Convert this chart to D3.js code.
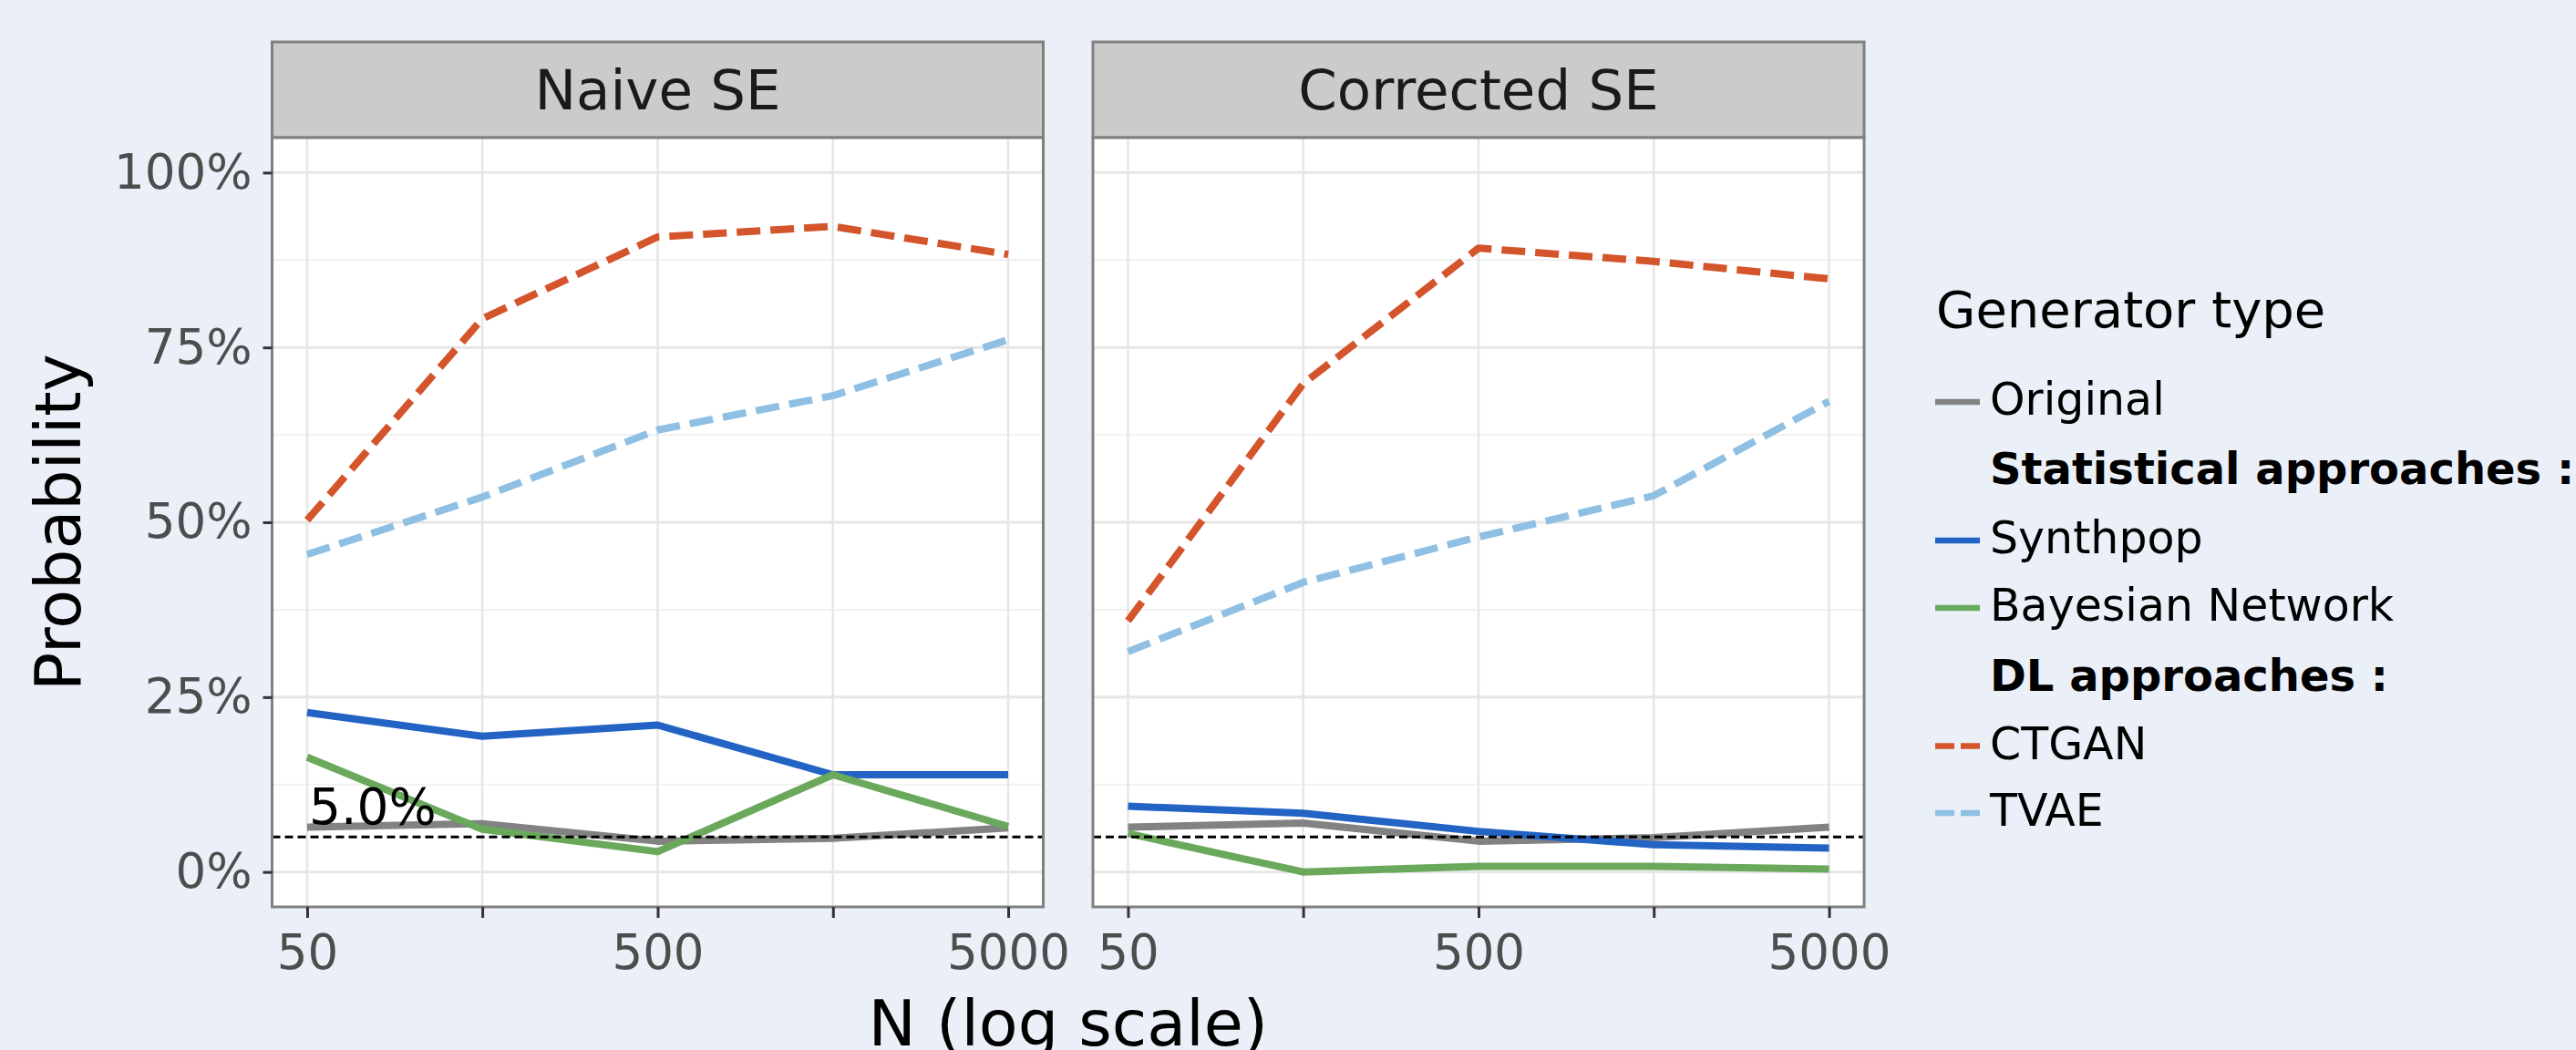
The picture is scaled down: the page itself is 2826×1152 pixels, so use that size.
<!DOCTYPE html>
<html>
<head>
<meta charset="utf-8">
<script src="https://cdn.jsdelivr.net/npm/d3@7"></script>
<style>
  body { margin: 0; background: #ebeff8; }
  text { font-family: "DejaVu Sans", sans-serif; }
</style>
</head>
<body>
<div id="chart"></div>
<script>
// sample sizes (log x axis) and facet names
var sizes = [50, 158, 500, 1581, 5000];
var tickLabels = {50: "50", 500: "500", 5000: "5000"};
var panelNames = ["Naive SE", "Corrected SE"];
var yTicks = [0, 0.25, 0.5, 0.75, 1];
var yMinor = [0.125, 0.375, 0.625, 0.875];
var threshold = 0.05;

// probabilities (%), one array per generator and panel
var naiveOriginal = [6.4, 6.9, 4.4, 4.8, 6.3];
var naiveSynthpop = [22.8, 19.4, 21.0, 13.9, 13.9];
var naiveBayes    = [16.4, 6.1, 2.9, 13.9, 6.5];
var naiveCtgan    = [50.3, 79.1, 90.8, 92.3, 88.3];
var naiveTvae     = [45.4, 53.6, 63.2, 68.1, 76.1];

var corrOriginal  = [6.4, 7.0, 4.4, 4.9, 6.4];
var corrSynthpop  = [9.4, 8.4, 5.8, 3.9, 3.4];
var corrBayes     = [5.5, 0.0, 0.8, 0.8, 0.4];
var corrCtgan     = [35.9, 69.8, 89.2, 87.3, 84.8];
var corrTvae      = [31.5, 41.4, 47.9, 53.8, 67.3];

var generators = ["Original", "Synthpop", "Bayesian Network", "CTGAN", "TVAE"];
var colors = {
  "Original": "#828282",
  "Synthpop": "#2263c4",
  "Bayesian Network": "#6aa95c",
  "CTGAN": "#d4542b",
  "TVAE": "#8fc0e4"
};
var dashed = {"CTGAN": true, "TVAE": true};

var series = [
  [naiveOriginal, naiveSynthpop, naiveBayes, naiveCtgan, naiveTvae],
  [corrOriginal, corrSynthpop, corrBayes, corrCtgan, corrTvae]
];

var svgWidth = 2826;
var svgHeight = 1152;
var margin = {top: 151, left: 298.5, bottom: 157};
var panelW = 846;
var panelGap = 54.5;
var panelH = svgHeight - margin.top - margin.bottom;
var stripH = 105;

var svg = d3.select("#chart")
  .append("svg")
  .attr("width", svgWidth)
  .attr("height", svgHeight);

svg.append("rect")
  .attr("width", svgWidth)
  .attr("height", svgHeight)
  .attr("fill", "#ebeff8");

var xScale = d3.scaleLog()
  .domain([50, 5000])
  .range([panelW * 0.05 / 1.1, panelW - panelW * 0.05 / 1.1]);

var yScale = d3.scaleLinear()
  .domain([-0.05, 1.05])
  .range([panelH, 0]);

var line = d3.line()
  .x(function(d, i) { return xScale(sizes[i]); })
  .y(function(d) { return yScale(d / 100); });

panelNames.forEach(function(name, p) {
  var px = margin.left + p * (panelW + panelGap);
  var chartGroup = svg.append("g")
    .attr("transform", `translate(${px}, ${margin.top})`);

  // strip
  chartGroup.append("rect")
    .attr("x", 0)
    .attr("y", -stripH)
    .attr("width", panelW)
    .attr("height", stripH)
    .attr("fill", "#cbcbcb")
    .attr("stroke", "#808080")
    .attr("stroke-width", 3);
  chartGroup.append("text")
    .attr("x", panelW / 2)
    .attr("y", -stripH / 2)
    .attr("dy", "0.36em")
    .attr("text-anchor", "middle")
    .attr("font-size", 61)
    .attr("fill", "#1a1a1a")
    .text(name);

  // panel
  chartGroup.append("rect")
    .attr("width", panelW)
    .attr("height", panelH)
    .attr("fill", "white");

  chartGroup.selectAll(".yminor")
    .data(yMinor)
    .enter()
    .append("line")
    .attr("x1", 0).attr("x2", panelW)
    .attr("y1", d => yScale(d)).attr("y2", d => yScale(d))
    .attr("stroke", "#f1f1f1")
    .attr("stroke-width", 2);

  chartGroup.selectAll(".ygrid")
    .data(yTicks)
    .enter()
    .append("line")
    .attr("x1", 0).attr("x2", panelW)
    .attr("y1", d => yScale(d)).attr("y2", d => yScale(d))
    .attr("stroke", "#e6e6e6")
    .attr("stroke-width", 3);

  chartGroup.selectAll(".xgrid")
    .data(sizes)
    .enter()
    .append("line")
    .attr("x1", d => xScale(d)).attr("x2", d => xScale(d))
    .attr("y1", 0).attr("y2", panelH)
    .attr("stroke", "#e6e6e6")
    .attr("stroke-width", 2.5);

  // generator lines
  generators.forEach(function(g, k) {
    chartGroup.append("path")
      .datum(series[p][k])
      .attr("d", line)
      .attr("fill", "none")
      .attr("stroke", colors[g])
      .attr("stroke-width", 8)
      .attr("stroke-linejoin", "round")
      .attr("stroke-dasharray", dashed[g] ? "26,11" : null);
  });

  // 5% reference line
  chartGroup.append("line")
    .attr("x1", 0).attr("x2", panelW)
    .attr("y1", yScale(threshold)).attr("y2", yScale(threshold))
    .attr("stroke", "black")
    .attr("stroke-width", 3)
    .attr("stroke-dasharray", "9,5");

  if (p === 0) {
    chartGroup.append("text")
      .attr("x", xScale(50) + 2)
      .attr("y", yScale(threshold) - 14)
      .attr("font-size", 55)
      .attr("fill", "black")
      .text((threshold * 100).toFixed(1) + "%");
  }

  chartGroup.append("rect")
    .attr("width", panelW)
    .attr("height", panelH)
    .attr("fill", "none")
    .attr("stroke", "#808080")
    .attr("stroke-width", 3);

  // x axis
  var bottomAxis = d3.axisBottom(xScale)
    .tickValues(sizes)
    .tickSize(12)
    .tickPadding(18)
    .tickFormat(d => tickLabels[d] || "");
  var xAxis = chartGroup.append("g")
    .attr("transform", `translate(0, ${panelH})`)
    .call(bottomAxis)
    .attr("class", "xaxis");
  xAxis.select(".domain").remove();
  xAxis.selectAll("line").attr("stroke", "#333333").attr("stroke-width", 3);
  xAxis.selectAll("text")
    .attr("font-size", 53)
    .attr("fill", "#4d4d4d")
    .style("font-family", "DejaVu Sans");

  if (p === 0) {
    var leftAxis = d3.axisLeft(yScale)
      .tickValues(yTicks)
      .tickSize(10)
      .tickPadding(12)
      .tickFormat(d3.format(".0%"));
    var yAxis = chartGroup.append("g")
      .call(leftAxis)
      .attr("class", "yaxis");
    yAxis.select(".domain").remove();
    yAxis.selectAll("line").attr("stroke", "#333333").attr("stroke-width", 3);
    yAxis.selectAll("text")
      .attr("font-size", 53)
      .attr("fill", "#4d4d4d")
      .style("font-family", "DejaVu Sans");
  }
});

// axis titles
svg.append("text")
  .attr("x", margin.left + panelW + panelGap / 2)
  .attr("y", 1147)
  .attr("text-anchor", "middle")
  .attr("font-size", 70)
  .attr("fill", "black")
  .text("N (log scale)");

svg.append("text")
  .attr("transform", `translate(88, ${margin.top + panelH / 2}) rotate(-90)`)
  .attr("text-anchor", "middle")
  .attr("font-size", 70)
  .attr("fill", "black")
  .text("Probability");

// legend
var legendRows = [
  {label: "Original", key: "Original", y: 455},
  {label: "Statistical approaches :", header: true, y: 531},
  {label: "Synthpop", key: "Synthpop", y: 607},
  {label: "Bayesian Network", key: "Bayesian Network", y: 681},
  {label: "DL approaches :", header: true, y: 758},
  {label: "CTGAN", key: "CTGAN", y: 832.5},
  {label: "TVAE", key: "TVAE", y: 906}
];

var legend = svg.append("g").attr("transform", "translate(2123, 0)");
legend.append("text")
  .attr("x", 1)
  .attr("y", 359)
  .attr("font-size", 56)
  .attr("fill", "black")
  .text("Generator type");

legend.selectAll(".lkey")
  .data(legendRows.filter(d => d.key))
  .enter()
  .append("line")
  .attr("x1", 0).attr("x2", 49)
  .attr("y1", d => d.y - 14).attr("y2", d => d.y - 14)
  .attr("stroke", d => colors[d.key])
  .attr("stroke-width", 6.5)
  .attr("stroke-dasharray", d => dashed[d.key] ? "21,7" : null);

legend.selectAll(".llabel")
  .data(legendRows)
  .enter()
  .append("text")
  .attr("x", 60)
  .attr("y", d => d.y)
  .attr("font-size", d => d.header ? 48 : 49)
  .attr("font-weight", d => d.header ? "bold" : "normal")
  .attr("fill", "black")
  .text(d => d.label);
</script>
</body>
</html>
